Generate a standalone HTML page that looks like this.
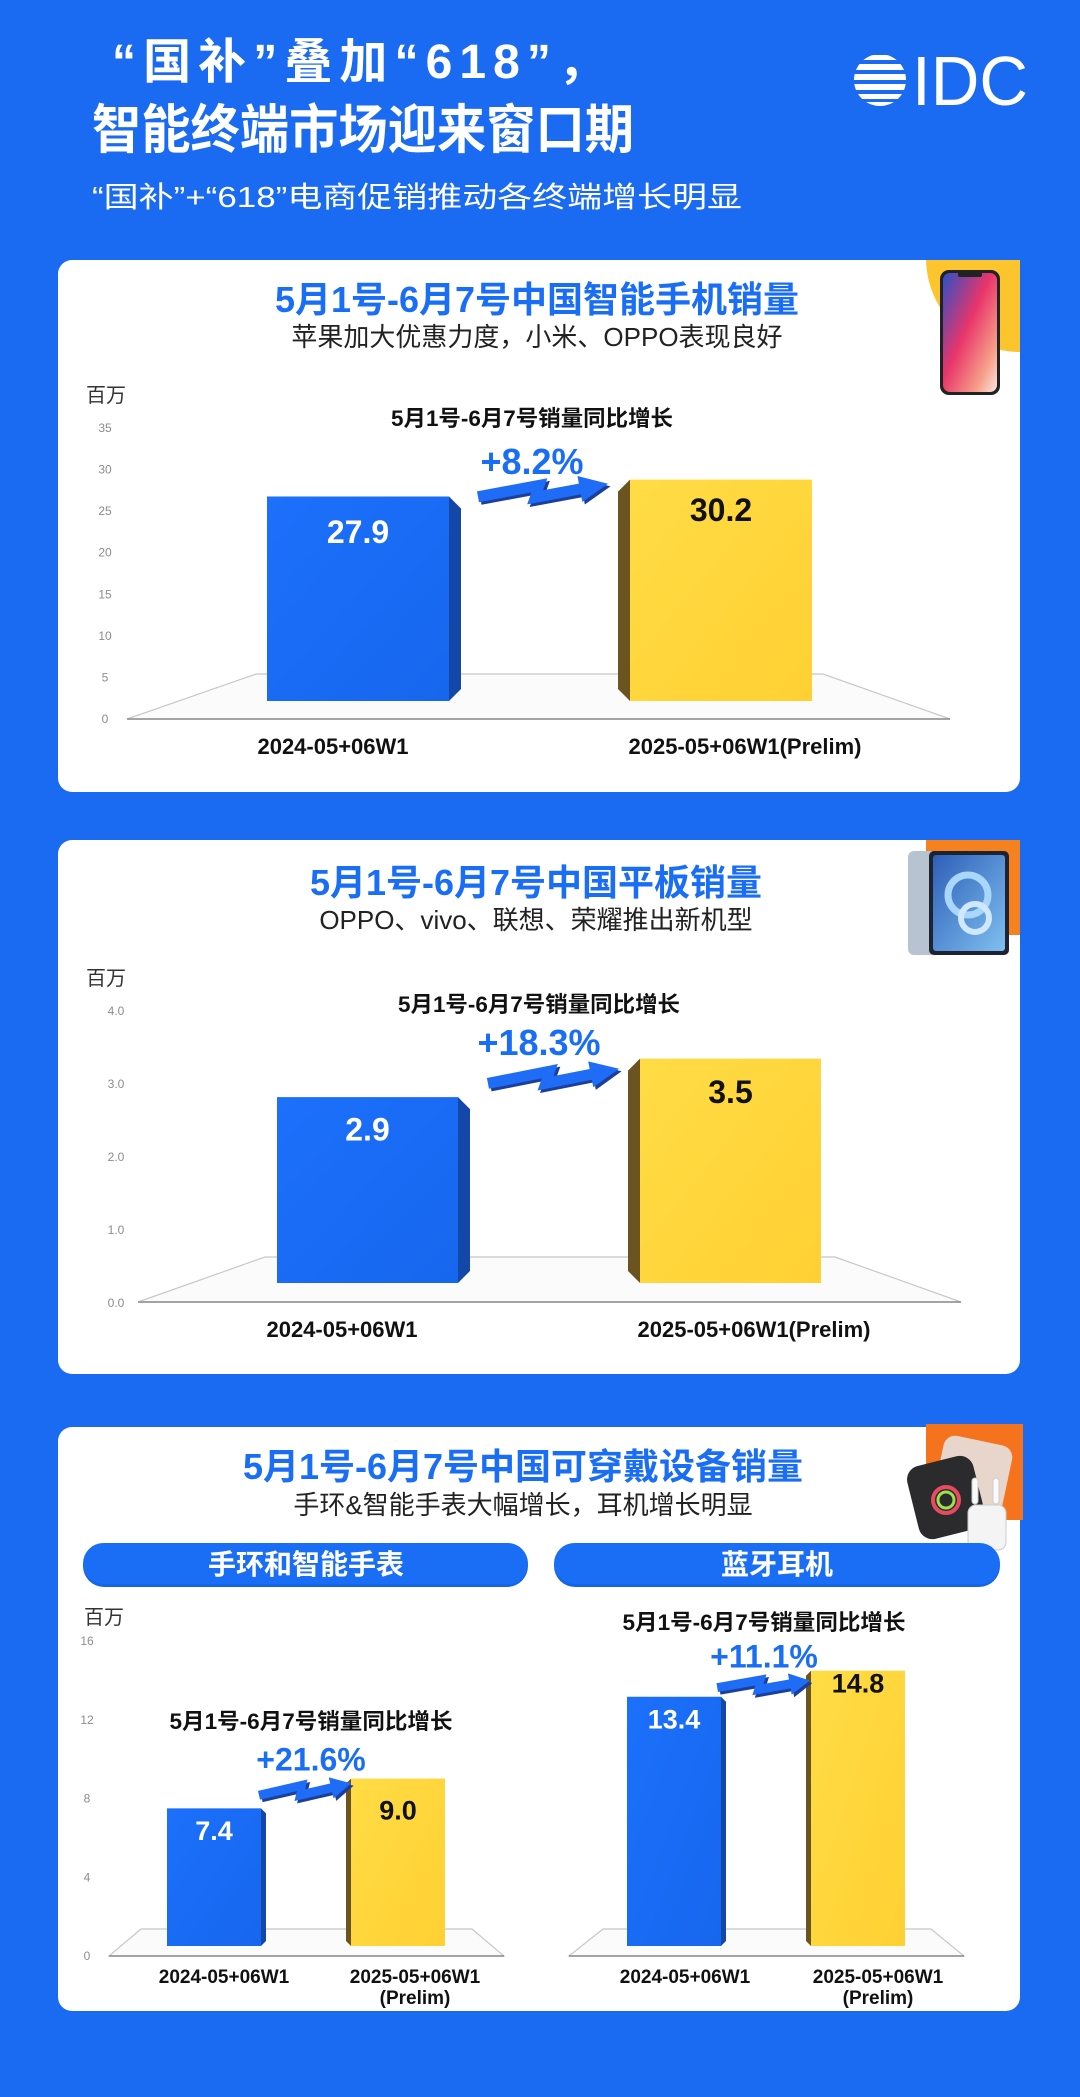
<!DOCTYPE html>
<html><head><meta charset="utf-8">
<style>
html,body{margin:0;padding:0;background:#1a6bf2;}
svg{display:block;}
text{font-family:"Liberation Sans","Noto Sans CJK SC",sans-serif;}
</style></head>
<body>
<svg id="page" width="1080" height="2097" viewBox="0 0 1080 2097" xmlns="http://www.w3.org/2000/svg">
<defs>
  <linearGradient id="blueBar" x1="0" y1="0" x2="1" y2="1"><stop offset="0" stop-color="#1c70fb"/><stop offset="1" stop-color="#1766ee"/></linearGradient>
  <linearGradient id="yelBar" x1="0" y1="0" x2="1" y2="1"><stop offset="0" stop-color="#ffdc45"/><stop offset="1" stop-color="#ffd033"/></linearGradient>
  <linearGradient id="phoneScr" x1="0" y1="0" x2="1" y2="1"><stop offset="0" stop-color="#2a50c8"/><stop offset="0.45" stop-color="#e8356a"/><stop offset="0.8" stop-color="#f6a08a"/><stop offset="1" stop-color="#fbe6e0"/></linearGradient>
  <linearGradient id="tabScr" x1="0" y1="0" x2="1" y2="1"><stop offset="0" stop-color="#2e5fb8"/><stop offset="1" stop-color="#7fbff0"/></linearGradient>
  <clipPath id="idcClip"><circle cx="880" cy="80" r="26"/></clipPath>
</defs>
<rect x="0" y="0" width="1080" height="2097" fill="#1a6bf2"/>

<!-- header -->
<text x="112" y="78" font-size="48" font-weight="700" fill="#fff" textLength="494" lengthAdjust="spacing">“国补”叠加“618”，</text>
<text x="92" y="148" font-size="53" font-weight="700" fill="#fff" textLength="542" lengthAdjust="spacingAndGlyphs">智能终端市场迎来窗口期</text>
<text x="92" y="207" font-size="29" fill="#fff" textLength="650" lengthAdjust="spacingAndGlyphs">“国补”+“618”电商促销推动各终端增长明显</text>
<g>
  <g clip-path="url(#idcClip)" fill="#fff">
    <rect x="850" y="55" width="60" height="5"/><rect x="850" y="64" width="60" height="6"/><rect x="850" y="74" width="60" height="6"/>
    <rect x="850" y="84" width="60" height="6"/><rect x="850" y="94" width="60" height="5"/><rect x="850" y="102" width="60" height="4"/>
  </g>
  <text x="912" y="105" font-size="70" fill="#fff" textLength="116" lengthAdjust="spacingAndGlyphs">IDC</text>
</g>

<!-- card 1 -->
<g>
  <rect x="58" y="260" width="962" height="532" rx="14" fill="#fff"/>
  <path d="M926 260 H1020 V352 A94 94 0 0 1 926 260 Z" fill="#fcc52e"/>
  <g>
    <rect x="940" y="270" width="60" height="125" rx="9" fill="#222"/>
    <rect x="943" y="273" width="54" height="119" rx="7" fill="url(#phoneScr)"/>
    <rect x="958" y="272" width="24" height="5" rx="2" fill="#222"/>
  </g>
  <text x="537" y="312" font-size="36" font-weight="700" fill="#1a6ef5" text-anchor="middle">5月1号-6月7号中国智能手机销量</text>
  <text x="537" y="346" font-size="26" fill="#222" text-anchor="middle">苹果加大优惠力度，小米、OPPO表现良好</text>
  <text x="86" y="402" font-size="20" fill="#333">百万</text>
</g>

<!-- card 2 -->
<g>
  <rect x="58" y="840" width="962" height="534" rx="14" fill="#fff"/>
  <rect x="926" y="840" width="94" height="95" fill="#f5821f"/>
  <g>
    <rect x="908" y="851" width="101" height="104" rx="6" fill="#b8c3d2"/>
    <rect x="929" y="851" width="80" height="104" rx="5" fill="#1d2330"/>
    <rect x="933" y="855" width="72" height="96" rx="3" fill="url(#tabScr)"/>
    <circle cx="968" cy="895" r="20" fill="none" stroke="#a9d6fb" stroke-width="7"/>
    <circle cx="975" cy="918" r="14" fill="none" stroke="#cfe8fc" stroke-width="6"/>
  </g>
  <text x="536" y="895" font-size="36" font-weight="700" fill="#1a6ef5" text-anchor="middle">5月1号-6月7号中国平板销量</text>
  <text x="536" y="929" font-size="26" fill="#222" text-anchor="middle">OPPO、vivo、联想、荣耀推出新机型</text>
  <text x="86" y="985" font-size="20" fill="#333">百万</text>
</g>

<!-- card 3 -->
<g>
  <rect x="58" y="1427" width="962" height="584" rx="14" fill="#fff"/>
  <rect x="926" y="1424" width="97" height="96" fill="#f5731c"/>
  <g>
    <rect x="938" y="1440" width="70" height="70" rx="12" fill="#e8d6cc" transform="rotate(12 973 1475)"/>
    <rect x="912" y="1460" width="68" height="75" rx="14" fill="#2b2b2d" transform="rotate(-14 946 1497)"/>
    <circle cx="946" cy="1500" r="13" fill="none" stroke="#e94a60" stroke-width="4"/>
    <circle cx="946" cy="1500" r="8" fill="none" stroke="#9be34a" stroke-width="3"/>
    <rect x="968" y="1505" width="38" height="45" rx="8" fill="#f4f4f4" stroke="#ccc"/>
    <rect x="972" y="1478" width="6" height="26" rx="3" fill="#fafafa" stroke="#ccc"/>
    <rect x="993" y="1478" width="6" height="26" rx="3" fill="#fafafa" stroke="#ccc"/>
  </g>
  <text x="523" y="1479" font-size="36" font-weight="700" fill="#1a6ef5" text-anchor="middle">5月1号-6月7号中国可穿戴设备销量</text>
  <text x="523" y="1514" font-size="26" fill="#222" text-anchor="middle">手环&amp;智能手表大幅增长，耳机增长明显</text>
  <rect x="83" y="1545" width="445" height="42" rx="21" fill="#1565e8"/>
  <rect x="83" y="1543" width="445" height="41" rx="20.5" fill="#1a6ef5"/>
  <text x="306" y="1574" font-size="28" font-weight="700" fill="#fff" text-anchor="middle">手环和智能手表</text>
  <rect x="554" y="1545" width="446" height="42" rx="21" fill="#1565e8"/>
  <rect x="554" y="1543" width="446" height="41" rx="20.5" fill="#1a6ef5"/>
  <text x="777" y="1574" font-size="28" font-weight="700" fill="#fff" text-anchor="middle">蓝牙耳机</text>
  <text x="84" y="1624" font-size="20" fill="#333">百万</text>
</g>
<g id="charts"></g>
</svg>
<script>
// ---- chart data ----
const phoneCategories = ['2024-05+06W1', '2025-05+06W1(Prelim)'];
const phoneValues = [27.9, 30.2];
const phoneTicks = [0, 5, 10, 15, 20, 25, 30, 35];
const phoneGrowth = '+8.2%';

const tabletCategories = ['2024-05+06W1', '2025-05+06W1(Prelim)'];
const tabletValues = [2.9, 3.5];
const tabletTicks = [0, 1, 2, 3, 4];
const tabletGrowth = '+18.3%';

const bandCategories = ['2024-05+06W1', '2025-05+06W1|(Prelim)'];
const bandValues = [7.4, 9.0];
const bandTicks = [0, 4, 8, 12, 16];
const bandGrowth = '+21.6%';

const earbudsCategories = ['2024-05+06W1', '2025-05+06W1|(Prelim)'];
const earbudsValues = [13.4, 14.8];
const earbudsGrowth = '+11.1%';

const annotationText = '5月1号-6月7号销量同比增长';

const NS = 'http://www.w3.org/2000/svg';
const root = document.getElementById('charts');
function mk(tag, attrs, parent) {
  const el = document.createElementNS(NS, tag);
  for (const k in attrs) el.setAttribute(k, attrs[k]);
  (parent || root).appendChild(el);
  return el;
}

function drawChart(name, cats, vals, ticks, growth, cfg) {
  const g = mk('g', {});
  
  
  const fl = mk('polygon', {points: `${cfg.back[0]},${cfg.back[2]} ${cfg.back[1]},${cfg.back[2]} ${cfg.front[1]},${cfg.front[2]} ${cfg.front[0]},${cfg.front[2]}`, fill: '#fbfbfb', stroke: '#c8c8c8', 'stroke-width': 1.2}, g);
  
  
  const fr = mk('line', {x1: cfg.front[0], y1: cfg.front[2], x2: cfg.front[1], y2: cfg.front[2], stroke: '#8a8a8a', 'stroke-width': 1.5}, g);
  
  
  if (ticks) {
    const tmax = ticks[ticks.length - 1];
    const ty = v => cfg.tickY0 - (v / tmax) * (cfg.tickY0 - cfg.tickTop);
    ticks.forEach(t => {
      const tl = mk('text', {x: cfg.tickX, y: ty(t) + 4, 'font-size': 12, fill: '#8c8c8c', 'text-anchor': 'middle'}, g);
      
      
      tl.textContent = cfg.tickFmt ? t.toFixed(1) : String(t);
    });
  }
  const yv = v => cfg.base - v * cfg.ppu;
  const tops = [];
  vals.forEach((v, i) => {
    const x = cfg.barX[i], w = cfg.barW, top = yv(v), bot = cfg.base;
    tops.push(top);
    const s = cfg.side, d = cfg.side;
    let sidePts;
    if (i === 0) sidePts = `${x + w},${top} ${x + w + s},${top + d} ${x + w + s},${bot - d} ${x + w},${bot}`;
    else sidePts = `${x},${top} ${x - s},${top + d} ${x - s},${bot - d} ${x},${bot}`;
    const sd = mk('polygon', {points: sidePts, fill: i === 0 ? '#1448a8' : '#6b5420'}, g);
    
    
    const r = mk('rect', {x: x, y: top, width: w, height: bot - top, fill: i === 0 ? 'url(#blueBar)' : 'url(#yelBar)'}, g);
    
    
    const vl = mk('text', {x: x + w / 2, y: top + cfg.valDy[i] + cfg.valSize * 0.36, 'font-size': cfg.valSize, 'font-weight': 700, fill: i === 0 ? '#fff' : '#111', 'text-anchor': 'middle'}, g);
    
    
    vl.textContent = v.toFixed(1);
    const parts = cats[i].split('|');
    parts.forEach((p, j) => {
      const cl = mk('text', {x: cfg.labelX[i], y: cfg.labelY + j * 21 + cfg.labelSize * 0.36, 'font-size': cfg.labelSize, 'font-weight': 700, fill: '#111', 'text-anchor': 'middle'}, g);
      
      
      cl.textContent = p;
    });
  });
  const x1 = cfg.barX[0] + cfg.barW + cfg.arrow[0], y1 = tops[0] + cfg.arrow[1];
  const x2 = cfg.barX[1] + cfg.arrow[2], y2 = tops[1] + cfg.arrow[3];
  const L = Math.hypot(x2 - x1, y2 - y1), ang = Math.atan2(y2 - y1, x2 - x1) * 180 / Math.PI;
  const h = cfg.arrowH;
  const shape = [[0,-h],[0.55,-h],[0.5,0],[0.78,0],[0.78,-0.7*h],[1,0.5*h],[0.78,1.7*h],[0.78,h],[0.36,h],[0.41,0],[0,0]];
  const pts = shape.map(p => `${(p[0] * L).toFixed(1)},${p[1].toFixed(1)}`).join(' ');
  const ag = mk('g', {transform: `translate(${x1},${y1 - 0.3 * h}) rotate(${ang})`}, g);
  
  
  mk('polygon', {points: pts, fill: '#1d3f9a', transform: 'translate(2,3)'}, ag);
  mk('polygon', {points: pts, fill: '#1f6df6'}, ag);
  const an = mk('text', {x: cfg.annoX, y: cfg.annoY + 8, 'font-size': 22, 'font-weight': 700, fill: '#111', 'text-anchor': 'middle', textLength: cfg.annoW, lengthAdjust: 'spacingAndGlyphs'}, g);
  
  
  an.textContent = annotationText;
  const pc = mk('text', {x: cfg.annoX, y: cfg.pctY + cfg.pctSize * 0.36, 'font-size': cfg.pctSize, 'font-weight': 700, fill: '#1a6ef5', 'text-anchor': 'middle'}, g);
  
  
  pc.textContent = growth;
}

drawChart('smartphone', phoneCategories, phoneValues, phoneTicks, phoneGrowth, {
  back: [256, 823, 674], front: [127, 950, 719], tickX: 105, tickY0: 719, tickTop: 428, tickFmt: false,
  base: 701, ppu: 7.33, barX: [267, 630], barW: 182, side: 12, valDy: [35, 30], valSize: 32,
  labelX: [333, 745], labelY: 746, labelSize: 22, arrow: [30, 9, -23, 2], arrowH: 11,
  annoX: 532, annoY: 418, annoW: 282, pctY: 461, pctSize: 36
});
drawChart('tablet', tabletCategories, tabletValues, tabletTicks, tabletGrowth, {
  back: [265, 835, 1257], front: [138, 961, 1302], tickX: 116, tickY0: 1303, tickTop: 1011, tickFmt: true,
  base: 1283, ppu: 64.1, barX: [277, 640], barW: 181, side: 12, valDy: [32, 33], valSize: 32,
  labelX: [342, 754], labelY: 1329, labelSize: 22, arrow: [31, -5, -22, 8], arrowH: 11,
  annoX: 539, annoY: 1004, annoW: 282, pctY: 1042, pctSize: 36
});
drawChart('band-watch', bandCategories, bandValues, bandTicks, bandGrowth, {
  back: [141, 472, 1929], front: [109, 504, 1956], tickX: 87, tickY0: 1956, tickTop: 1641, tickFmt: false,
  base: 1946, ppu: 18.6, barX: [167, 351], barW: 94, side: 5, valDy: [22, 31], valSize: 27,
  labelX: [224, 415], labelY: 1976, labelSize: 19, arrow: [-1, -6, -1, 3], arrowH: 9,
  annoX: 311, annoY: 1721, annoW: 283, pctY: 1759, pctSize: 32
});
drawChart('earbuds', earbudsCategories, earbudsValues, null, earbudsGrowth, {
  back: [603, 931, 1929], front: [569, 964, 1956],
  base: 1946, ppu: 18.6, barX: [627, 811], barW: 94, side: 5, valDy: [22, 12], valSize: 27,
  labelX: [685, 878], labelY: 1976, labelSize: 19, arrow: [-3, -2, -2, 8], arrowH: 9,
  annoX: 764, annoY: 1622, annoW: 283, pctY: 1656, pctSize: 32
});
</script>
</body></html>
